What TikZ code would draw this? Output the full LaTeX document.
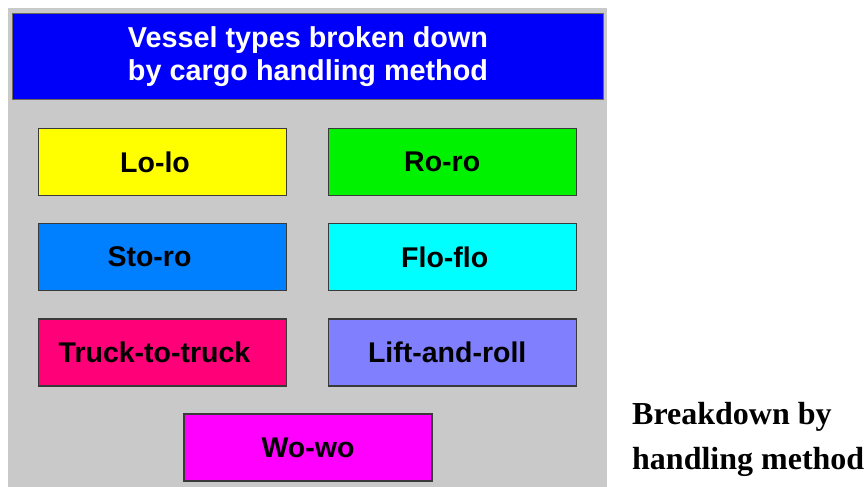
\documentclass[tikz,border=0pt]{standalone}
\usepackage{fontspec}
\setmainfont{Liberation Serif}
\setsansfont{Liberation Sans}
\definecolor{panelgrey}{HTML}{C9C9C9}
\definecolor{headerblue}{HTML}{0000FA}
\definecolor{headerrim}{HTML}{6A6A55}
\definecolor{boxrim}{HTML}{3A3A3A}
\definecolor{loloyellow}{HTML}{FFFF00}
\definecolor{rorogreen}{HTML}{00F200}
\definecolor{storoblue}{HTML}{0080FF}
\definecolor{floflocyan}{HTML}{00FFFF}
\definecolor{truckpink}{HTML}{FF0078}
\definecolor{liftviolet}{HTML}{8080FF}
\definecolor{wowomagenta}{HTML}{FF00FF}
% label set a little left of the box centre
\newcommand\leftlabel[2]{#2\hspace*{#1}}
\begin{document}
\begin{tikzpicture}[x=1pt,y=-1pt,
  header/.style={draw=headerrim, line width=1.5pt, fill=headerblue, text=white,
    font=\sffamily\bfseries\fontsize{28.8}{33}\selectfont, align=center,
    minimum width=591pt, minimum height=86pt, inner sep=0pt},
  kind/.style={draw=boxrim, line width=1.1pt, minimum width=248pt, minimum height=67pt,
    inner sep=0pt, text=black, font=\sffamily\bfseries\fontsize{28.5}{33}\selectfont},
  caption/.style={anchor=base west, align=left, inner sep=0pt,
    font=\rmfamily\bfseries\fontsize{32}{45}\selectfont}]
  \fill[white] (0,0) rectangle (868,487);
  \useasboundingbox (0,0) rectangle (868,487);
  % grey panel behind the chart
  \fill[panelgrey] (8,8) rectangle (607,487);
  % title bar
  \node[header] (title) at (308,56.5) {Vessel types broken down\\by cargo handling method};
  % handling methods
  \node[kind, fill=loloyellow]  (lolo)  at (162.5,162)  {\leftlabel{15pt}{Lo-lo}};
  \node[kind, fill=rorogreen]   (roro)  at (452.7,162)  {\leftlabel{21pt}{Ro-ro}};
  \node[kind, fill=storoblue]   (storo) at (162.5,257)  {\leftlabel{26pt}{Sto-ro}};
  \node[kind, fill=floflocyan]  (duflo) at (452.7,257)  {\leftlabel{16pt}{Flo-flo}};
  \node[kind, fill=truckpink]   (truck) at (162.5,352.5){\leftlabel{16pt}{Truck-to-truck}};
  \node[kind, fill=liftviolet]  (lift)  at (452.7,352.5){\leftlabel{11pt}{Lift-and-roll}};
  \node[kind, fill=wowomagenta] (wowo)  at (308,447.5)  {Wo-wo};
  % side caption (anchored on its last line)
  \node[caption] (side) at (632,469) {Breakdown by\\handling method};
\end{tikzpicture}
\end{document}
